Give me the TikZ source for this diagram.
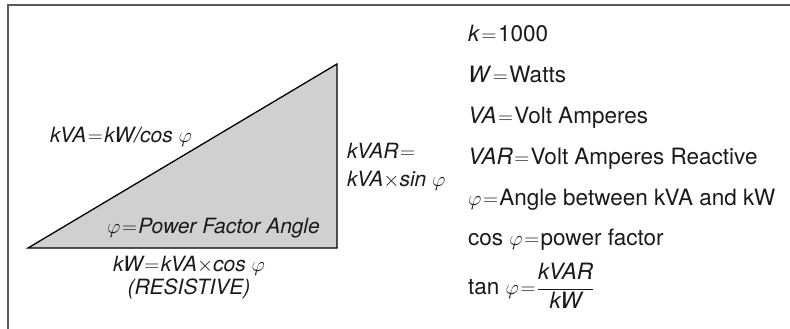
\documentclass[tikz,border=0pt]{standalone}
\usepackage{fontspec}
\setmainfont{TeX Gyre Heros}
\definecolor{inkgray}{HTML}{1A1A1A}
\definecolor{framegray}{HTML}{5A5A5A}
\definecolor{trifill}{HTML}{D0D0D0}
\newcommand{\eqs}{\kern1.5pt$=$\kern1.5pt}
\tikzset{
  sidelabel/.style={font=\fontsize{21}{28}\selectfont\itshape, text=inkgray, inner sep=0pt},
  keylabel/.style={font=\fontsize{22.5}{27}\selectfont, text=inkgray, inner sep=0pt, anchor=base west}
}
\begin{document}
\begin{tikzpicture}[x=1pt, y=-1pt]
  \useasboundingbox (0,0) rectangle (790,329);
  % frame, only top and left edges show
  \draw[framegray, line width=1.5pt] (8,329) -- (8,5) -- (790,5);
  % power triangle
  \coordinate (A) at (28,248);
  \coordinate (B) at (337,248);
  \coordinate (C) at (337,64);
  \draw[fill=trifill, line width=1.3pt, line join=miter] (A) -- (B) -- (C) -- cycle;
  % side labels
  \node[sidelabel, anchor=base west] (hyp) at (50,142) {kVA\eqs kW/cos $\varphi$};
  \node[sidelabel, anchor=base west] (vert) at (347,158) {kVAR\eqs};
  \node[sidelabel, anchor=base west] (vert2) at (347,186) {kVA$\times$sin $\varphi$};
  \node[sidelabel, anchor=base west] (ang) at (107,233) {$\varphi$\eqs Power Factor Angle};
  \node[sidelabel, anchor=base] (base) at (189,271) {kW\eqs kVA$\times$cos $\varphi$};
  \node[sidelabel, anchor=base] (res) at (189,294) {(RESISTIVE)};
  % definitions
  \node[keylabel] (k) at (468,42) {\textit{k}\eqs 1000};
  \node[keylabel] (w) at (468,83) {\textit{W}\eqs Watts};
  \node[keylabel] (va) at (468,123) {\textit{VA}\eqs Volt Amperes};
  \node[keylabel] (var) at (468,164) {\textit{VAR}\eqs Volt Amperes Reactive};
  \node[keylabel] (phi) at (468,205) {$\varphi$\eqs Angle between kVA and kW};
  \node[keylabel] (cos) at (468,245) {cos $\varphi$\eqs power factor};
  \node[keylabel] (tan) at (468,294)
    {tan $\varphi$\eqs$\displaystyle\frac{\textit{kVAR}}{\textit{kW}}$};
\end{tikzpicture}
\end{document}
